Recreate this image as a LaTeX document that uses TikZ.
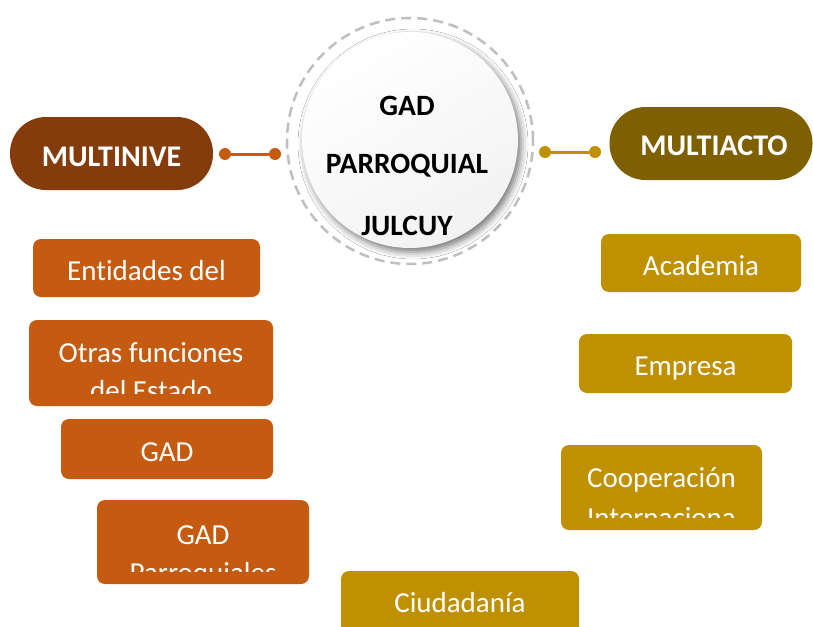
\documentclass[tikz,border=0pt]{standalone}
\usepackage{fontspec}
\setmainfont[Ligatures=NoCommon]{Carlito}
\usetikzlibrary{shadows.blur}
\definecolor{lbrown}{HTML}{C55A11}
\definecolor{dbrown}{HTML}{843C0C}
\definecolor{lgold}{HTML}{BF9000}
\definecolor{dgold}{HTML}{7F6000}
\definecolor{dashgray}{HTML}{BFBFBF}
\tikzset{
  pill/.style={rounded corners=36pt, minimum width=203pt, minimum height=73pt, inner sep=0pt},
  htext/.style={text=white, font=\bfseries\fontsize{30}{34}\selectfont, inner sep=0pt},
  lbox/.style={fill=lbrown, rounded corners=8pt, inner sep=0pt},
  rbox/.style={fill=lgold, rounded corners=8pt, inner sep=0pt},
  btext/.style={text=white, font=\fontsize{29}{34}\selectfont, inner sep=0pt, anchor=base},
  ctext/.style={text=black, font=\bfseries\fontsize{29.5}{34}\selectfont, inner sep=0pt},
  ldot/.style={circle, fill=lbrown, minimum size=12pt, inner sep=0pt},
  rdot/.style={circle, fill=lgold, minimum size=12pt, inner sep=0pt},
}
\begin{document}
\begin{tikzpicture}[x=1pt,y=-1pt]
\useasboundingbox (0,0) rectangle (813,626);
\fill[white] (0,0) rectangle (813,626);
% central circle
\node[circle, draw=dashgray, line width=2.5pt, dash pattern=on 10pt off 6pt, minimum size=246pt, inner sep=0pt] (ring) at (410,141) {};
\node[circle, minimum size=216pt, inner sep=0pt, top color=white, bottom color=gray!10, shading angle=30,
      blur shadow={shadow xshift=3pt, shadow yshift=-4pt, shadow blur radius=7pt, shadow opacity=55}] (core) at (410,140) {};
\node[ctext] (t1) at (407,106) {GAD};
\node[ctext] (t2) at (407,166) {PARROQUIAL};
\node[ctext] (t3) at (407,226) {JULCUY};
% headers
\node[pill, fill=dbrown] (mn) at (111.5,153.5) {};
\node[htext] (mnt) at (111.5,157) {MULTINIVE};
\node[pill, fill=dgold] (ma) at (711,143.5) {};
\node[htext] (mat) at (714,146) {MULTIACTO};
% connectors
\node[ldot] (ld1) at (225,154) {};
\node[ldot] (ld2) at (275,154) {};
\draw[lbrown, line width=3pt] (ld1) -- (ld2);
\node[rdot] (rd1) at (545,152) {};
\node[rdot] (rd2) at (595,152) {};
\draw[lgold, line width=3pt] (rd1) -- (rd2);
% left boxes
\node[lbox, minimum width=227pt, minimum height=58pt] (e1) at (146.5,268) {};
\node[btext] (e1t) at (146.5,280) {Entidades del};
\node[lbox, minimum width=244pt, minimum height=86pt] (e2) at (151,363) {};
\begin{scope}
\clip ([yshift=13pt]e2.south west) rectangle (e2.north east);
\node[btext] (e2a) at (151,362) {Otras funciones};
\node[btext] (e2b) at (151,400) {del Estado};
\end{scope}
\node[lbox, minimum width=212pt, minimum height=60pt] (e3) at (167,449) {};
\node[btext] (e3t) at (167,461) {GAD};
\node[lbox, minimum width=212pt, minimum height=84pt] (e4) at (203,542) {};
\begin{scope}
\clip ([yshift=13pt]e4.south west) rectangle (e4.north east);
\node[btext] (e4a) at (203,544) {GAD};
\node[btext] (e4b) at (203,582) {Parroquiales};
\end{scope}
% right boxes
\node[rbox, minimum width=200pt, minimum height=58pt] (a1) at (701,263) {};
\node[rbox, minimum width=213pt, minimum height=59pt] (a2) at (685.5,363.5) {};
\node[rbox, minimum width=201pt, minimum height=85pt] (a3) at (661.5,487.5) {};
\node[rbox, minimum width=238pt, minimum height=70pt] (a4) at (460,606) {};
\node[btext] (a1t) at (701,275) {Academia};
\node[btext] (a2t) at (685.5,375) {Empresa};
\begin{scope}
\clip ([yshift=13pt]a3.south west) rectangle (a3.north east);
\node[btext] (a3a) at (661.5,487) {Cooperación};
\node[btext] (a3b) at (661.5,527) {Internaciona};
\end{scope}
\node[btext] (a4t) at (460,612) {Ciudadanía};
\end{tikzpicture}
\end{document}
